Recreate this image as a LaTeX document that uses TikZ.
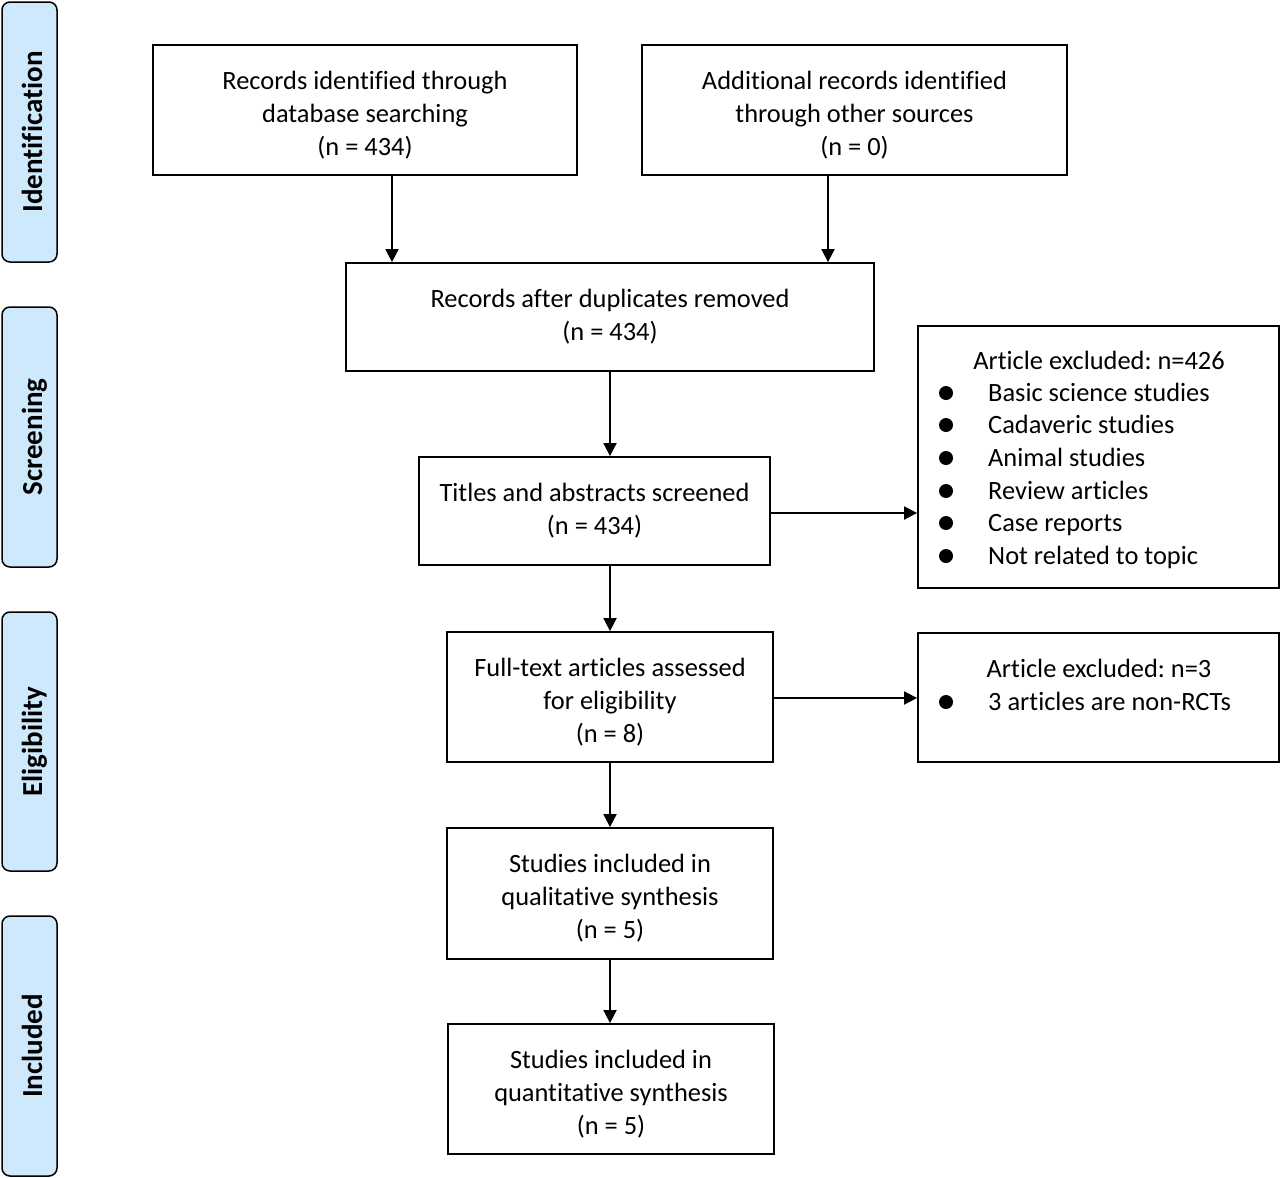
\documentclass[tikz,border=0pt]{standalone}
\usepackage{fontspec}
\setmainfont[Ligatures={NoCommon}]{Carlito}
\usetikzlibrary{arrows.meta}
\definecolor{tabblue}{RGB}{206,232,252}
\frenchspacing
\newcommand{\topstrut}{\rule{0pt}{28pt}}
\begin{document}
\begin{tikzpicture}[x=1pt,y=-1pt,
  box/.style={draw=black, line width=1.8pt, inner sep=0pt, align=center,
    font=\fontsize{26.4}{33}\selectfont},
  tab/.style={draw=black, line width=1.5pt, fill=tabblue, rounded corners=8pt, inner sep=0pt},
  tablabel/.style={rotate=90, font=\fontsize{29}{33}\selectfont\bfseries,
    text height=18pt, text depth=0pt, inner sep=0pt},
  arr/.style={-{Triangle[length=13pt,width=13pt]}, line width=1.8pt},
  txt/.style={inner sep=0pt, text height=17pt, text depth=0pt,
    font=\fontsize{26.4}{33}\selectfont},
  item/.style={txt, anchor=west},
  dot/.style={circle, fill=black, minimum size=14pt, inner sep=0pt}
]
\useasboundingbox (0,0) rectangle (1280,1178);

% side tabs
\node[tab, minimum width=55pt, minimum height=260pt] (t1) at (29.5,132) {};
\node[tablabel] (l1) at (33,132) {Identification};
\node[tab, minimum width=55pt, minimum height=260pt] (t2) at (29.5,437) {};
\node[tablabel] (l2) at (33,437) {Screening};
\node[tab, minimum width=55pt, minimum height=259pt] (t3) at (29.5,741.5) {};
\node[tablabel] (l3) at (33,741.5) {Eligibility};
\node[tab, minimum width=55pt, minimum height=260pt] (t4) at (29.5,1046) {};
\node[tablabel] (l4) at (33,1046) {Included};

% main boxes
\node[box, minimum width=424pt, minimum height=130pt] (a) at (365,110)
  {\topstrut Records identified through\\database searching\\(n = 434)};
\node[box, minimum width=425pt, minimum height=130pt] (b) at (854.5,110)
  {\topstrut Additional records identified\\through other sources\\(n = 0)};
\node[box, minimum width=528pt, minimum height=108pt] (c) at (610,317)
  {Records after duplicates removed\\(n = 434)};
\node[box, minimum width=351pt, minimum height=108pt] (d) at (594.5,511)
  {Titles and abstracts screened\\(n = 434)};
\node[box, minimum width=326pt, minimum height=130pt] (f) at (610,697)
  {\topstrut Full-text articles assessed\\for eligibility\\(n = 8)};
\node[box, minimum width=326pt, minimum height=131pt] (h) at (610,893.5)
  {\topstrut Studies included in\\qualitative synthesis\\(n = 5)};
\node[box, minimum width=326pt, minimum height=130pt] (i) at (611,1089)
  {\topstrut Studies included in\\quantitative synthesis\\(n = 5)};

% exclusion boxes
\node[box, minimum width=361pt, minimum height=262pt] (e) at (1098.5,457) {};
\node[txt] (et) at (1099,361) {Article excluded: n=426};
\foreach \yy/\t [count=\k] in {393/Basic science studies, 425/Cadaveric studies,
    458/Animal studies, 491/Review articles, 523/Case reports, 556/Not related to topic}{
  \node[dot] (ed\k) at (946,\yy) {};
  \node[item] (ei\k) at (988,\yy) {\t};
}
\node[box, minimum width=361pt, minimum height=129pt] (g) at (1098.5,697.5) {};
\node[txt] (gt) at (1099,669) {Article excluded: n=3};
\node[dot] (gd1) at (946,702) {};
\node[item] (gi1) at (988,702) {3 articles are non-RCTs};

% arrows
\draw[arr] (a.south -| 392,0) -- (c.north -| 392,0);
\draw[arr] (b.south -| 828,0) -- (c.north -| 828,0);
\draw[arr] (c.south -| 610,0) -- (d.north -| 610,0);
\draw[arr] ([xshift=-2pt]d.east |- 0,513) -- (e.west |- 0,513);
\draw[arr] (d.south -| 610,0) -- (f.north -| 610,0);
\draw[arr] (f.east |- 0,698) -- (g.west |- 0,698);
\draw[arr] (f.south) -- (h.north);
\draw[arr] (h.south) -- (i.north -| 610,0);
\end{tikzpicture}
\end{document}
